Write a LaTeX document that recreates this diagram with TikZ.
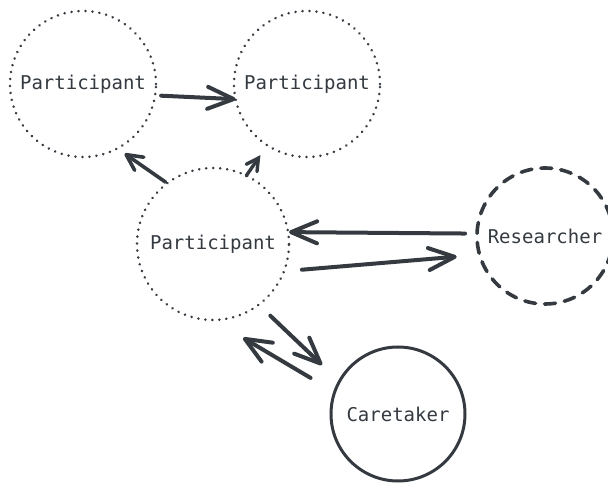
\documentclass[tikz,border=0pt]{standalone}
\usepackage{fontspec}
\setmonofont{DejaVu Sans Mono}
\usetikzlibrary{positioning,arrows.meta}
\definecolor{ink}{HTML}{343A40}
\tikzset{
  actor/.style={circle, draw=ink, inner sep=0pt, outer sep=0pt, text=ink,
    font=\ttfamily\fontsize{19}{22}\selectfont},
  participant/.style={actor, minimum size=146pt, line width=2.8pt,
    dash pattern=on 0.01pt off 7pt, line cap=round},
  researcher/.style={actor, minimum size=136pt, line width=3.6pt,
    dash pattern=on 11pt off 9pt, line cap=round},
  caretaker/.style={actor, minimum size=134pt, line width=3pt},
  flow/.style={draw=ink, line width=4pt, line cap=round,
    -{Straight Barb[length=26pt,width=22pt,line cap=round,line join=round]}},
  smallflow/.style={flow, line width=3.6pt,
    -{Straight Barb[length=16pt,width=16pt,line cap=round,line join=round]}},
}
\begin{document}
\begin{tikzpicture}[x=1pt,y=-1pt]
  \useasboundingbox (0,0) rectangle (608,486);
  \node[participant] (p1) at (83,84) {Participant};
  \node[participant, right=78pt of p1] (p2) {Participant};
  \node[participant, minimum size=152pt] (p3) at (213,244) {Participant};
  \node[researcher] (res) at (545,236) {Researcher};
  \node[caretaker] (care) at (398,414) {Caretaker};
  % between participants
  \draw[flow, shorten <=6pt] (p1.-9) -- (p2.192);
  \draw[smallflow, shorten <=2pt, shorten >=9pt] (p3.127) -- (p1.-62);
  \draw[smallflow, line width=3.4pt, shorten >=12pt,
    -{Straight Barb[length=12pt,width=13pt,line cap=round]}] (p3.64) -- (p2.-123);
  % researcher
  \draw[flow, shorten <=12pt, shorten >=1pt] (res.178) -- (p3.9);
  \draw[flow, shorten <=18pt, shorten >=23pt] (p3.-21) -- (res.196);
  % caretaker
  \draw[flow, shorten <=16pt, shorten >=24pt] (p3.-53) -- (care.151);
  \draw[flow, shorten <=28pt, shorten >=35pt] (care.161) -- (p3.-90);
\end{tikzpicture}
\end{document}
